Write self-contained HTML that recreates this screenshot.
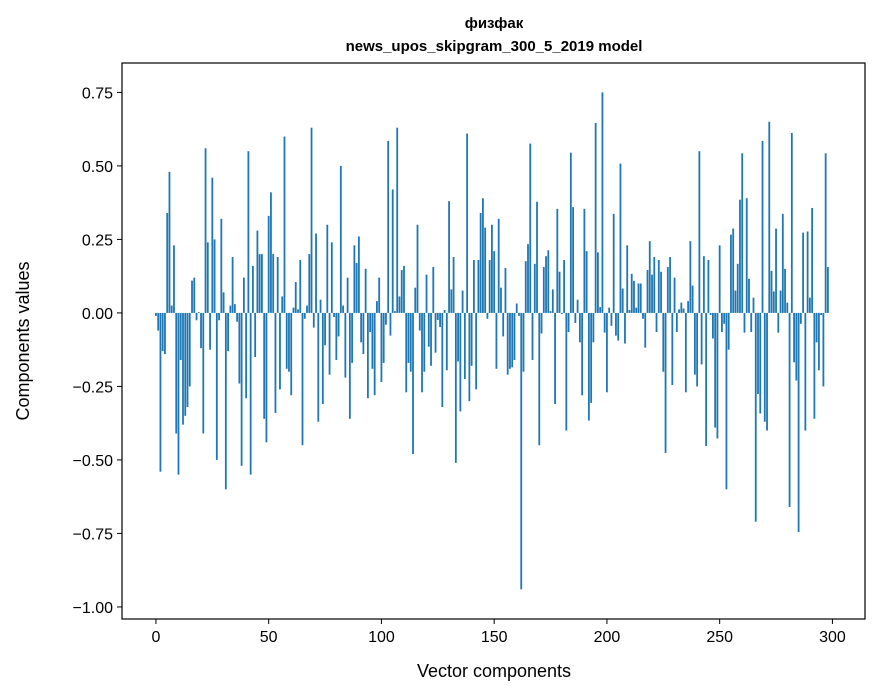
<!DOCTYPE html>
<html><head><meta charset="utf-8"><style>
body{margin:0;background:#fff;}
svg{display:block;font-family:"Liberation Sans","DejaVu Sans",sans-serif;}
</style></head><body>
<svg id="chart" width="880" height="696" xmlns="http://www.w3.org/2000/svg">
<rect width="880" height="696" fill="#fff"/>
<text x="494" y="28" text-anchor="middle" font-size="15" font-weight="bold" font-family="'Liberation Sans','DejaVu Sans',sans-serif">физфак</text>
<text x="494" y="51" text-anchor="middle" font-size="15" font-weight="bold">news_upos_skipgram_300_5_2019 model</text>
<g id="bars"></g>
<rect x="122" y="63" width="743" height="556" fill="none" stroke="#000" stroke-width="1.2"/>
<g id="axes"></g>
<text x="494" y="677" text-anchor="middle" font-size="18">Vector components</text>
<text transform="translate(29,341) rotate(-90)" text-anchor="middle" font-size="18">Components values</text>
</svg>
<script>
const values = [-0.01,-0.06,-0.54,-0.13,-0.14,0.34,0.48,0.025,0.23,-0.41,-0.55,-0.16,-0.38,-0.35,-0.32,-0.25,0.11,0.12,-0.025,0.003,-0.12,-0.41,0.56,0.24,-0.125,0.46,0.25,-0.5,-0.025,0.32,0.07,-0.6,-0.13,0.025,0.19,0.03,-0.03,-0.24,-0.52,0.12,-0.29,0.55,-0.55,0.16,-0.15,0.28,0.2,0.2,-0.36,-0.44,
0.33,0.41,0.2,-0.34,0.19,-0.26,0.056,0.6,-0.19,-0.2,-0.28,0.018,0.105,0.012,0.18,-0.45,-0.02,0.025,0.2,0.63,-0.05,0.27,-0.37,0.045,-0.31,-0.11,0.3,-0.21,0.24,-0.014,-0.16,-0.08,0.5,0.025,-0.22,0.12,-0.36,-0.17,0.23,0.17,0.26,-0.1,-0.14,0.15,-0.29,-0.065,-0.19,-0.28,0.04,0.12,-0.235,
-0.17,-0.04,0.585,-0.077,0.42,0.006,0.63,0.056,0.146,0.16,-0.27,-0.17,-0.2,-0.48,0.086,0.3,-0.06,-0.27,-0.2,0.13,-0.115,-0.18,0.156,-0.135,-0.024,-0.048,-0.32,0.01,-0.195,0.38,0.08,0.19,-0.51,-0.165,-0.335,0.076,-0.225,0.61,-0.3,-0.18,0.18,-0.26,0.18,0.34,0.39,0.29,-0.02,0.18,0.3,0.21,
-0.19,0.32,0.086,-0.08,0.153,-0.21,-0.19,-0.185,-0.16,0.032,-0.01,-0.94,-0.2,0.176,0.234,0.576,-0.16,0.167,0.378,-0.45,-0.07,0.156,0.193,0.213,0.006,0.08,-0.31,0.354,0.14,-0.004,0.18,-0.4,-0.065,0.545,0.36,-0.034,0.045,-0.1,-0.28,0.354,0.21,-0.366,-0.306,-0.1,0.646,0.206,0.02,0.75,-0.067,-0.27,
0.018,-0.044,0.337,-0.077,-0.094,0.508,0.083,-0.104,0.23,0.01,0.133,0.109,0.018,0.1,0.1,-0.02,-0.118,0.146,0.244,0.13,0.19,-0.065,0.18,0.14,-0.2,-0.476,0.156,0.19,-0.245,0.12,-0.065,0.012,0.035,0.015,-0.27,0.04,0.244,0.093,-0.21,-0.25,0.55,-0.175,0.193,-0.453,0.18,-0.007,-0.087,-0.39,-0.427,0.23,
-0.065,-0.037,-0.6,-0.125,0.266,0.287,0.076,0.167,0.385,0.543,-0.067,0.39,0.116,-0.065,0.052,-0.71,-0.276,-0.342,0.585,-0.37,-0.4,0.65,0.143,0.073,0.287,-0.067,0.076,0.337,0.15,0.035,-0.66,0.612,-0.168,-0.23,-0.745,-0.037,0.273,-0.4,0.277,0.052,0.357,-0.36,-0.1,-0.195,-0.007,-0.25,0.543,0.156];
const xTicks = [0,50,100,150,200,250,300];
const yTicks = [0.75,0.5,0.25,0,-0.25,-0.5,-0.75,-1.0];
const yTickLabels = ["0.75","0.50","0.25","0.00","\u22120.25","\u22120.50","\u22120.75","\u22121.00"];
const NS="http://www.w3.org/2000/svg";
const X0=122,X1=865,Y0=63,Y1=619, xmin=-15.05, xmax=314.45, ymin=-1.041, ymax=0.85;
function xs(v){return X0+(v-xmin)/(xmax-xmin)*(X1-X0);}
function ys(v){return Y1-(v-ymin)/(ymax-ymin)*(Y1-Y0);}
const bars=document.getElementById('bars');
values.forEach((v,i)=>{
  const r=document.createElementNS(NS,'rect');
  const a=xs(i-0.4), b=xs(i+0.4);
  r.setAttribute('x',a); r.setAttribute('width',b-a);
  r.setAttribute('y',Math.min(ys(v),ys(0))); r.setAttribute('height',Math.abs(ys(v)-ys(0)));
  r.setAttribute('fill','#1f77b4');
  
  
  bars.appendChild(r);
});
const axes=document.getElementById('axes');
xTicks.forEach(t=>{
  const l=document.createElementNS(NS,'line');
  l.setAttribute('x1',xs(t));l.setAttribute('x2',xs(t));l.setAttribute('y1',Y1);l.setAttribute('y2',Y1+5);l.setAttribute('stroke','#000');
  
  
  axes.appendChild(l);
  const tx=document.createElementNS(NS,'text');
  tx.setAttribute('x',xs(t));tx.setAttribute('y',Y1+23);tx.setAttribute('text-anchor','middle');tx.setAttribute('font-size','16');
  tx.textContent=String(t);
  
  
  axes.appendChild(tx);
});
yTicks.forEach((t,k)=>{
  const l=document.createElementNS(NS,'line');
  l.setAttribute('x1',X0-5);l.setAttribute('x2',X0);l.setAttribute('y1',ys(t));l.setAttribute('y2',ys(t));l.setAttribute('stroke','#000');
  
  
  axes.appendChild(l);
  const tx=document.createElementNS(NS,'text');
  tx.setAttribute('x',X0-9);tx.setAttribute('y',ys(t)+6);tx.setAttribute('text-anchor','end');tx.setAttribute('font-size','16');
  tx.textContent=yTickLabels[k];
  
  
  axes.appendChild(tx);
});
</script>
</body></html>
